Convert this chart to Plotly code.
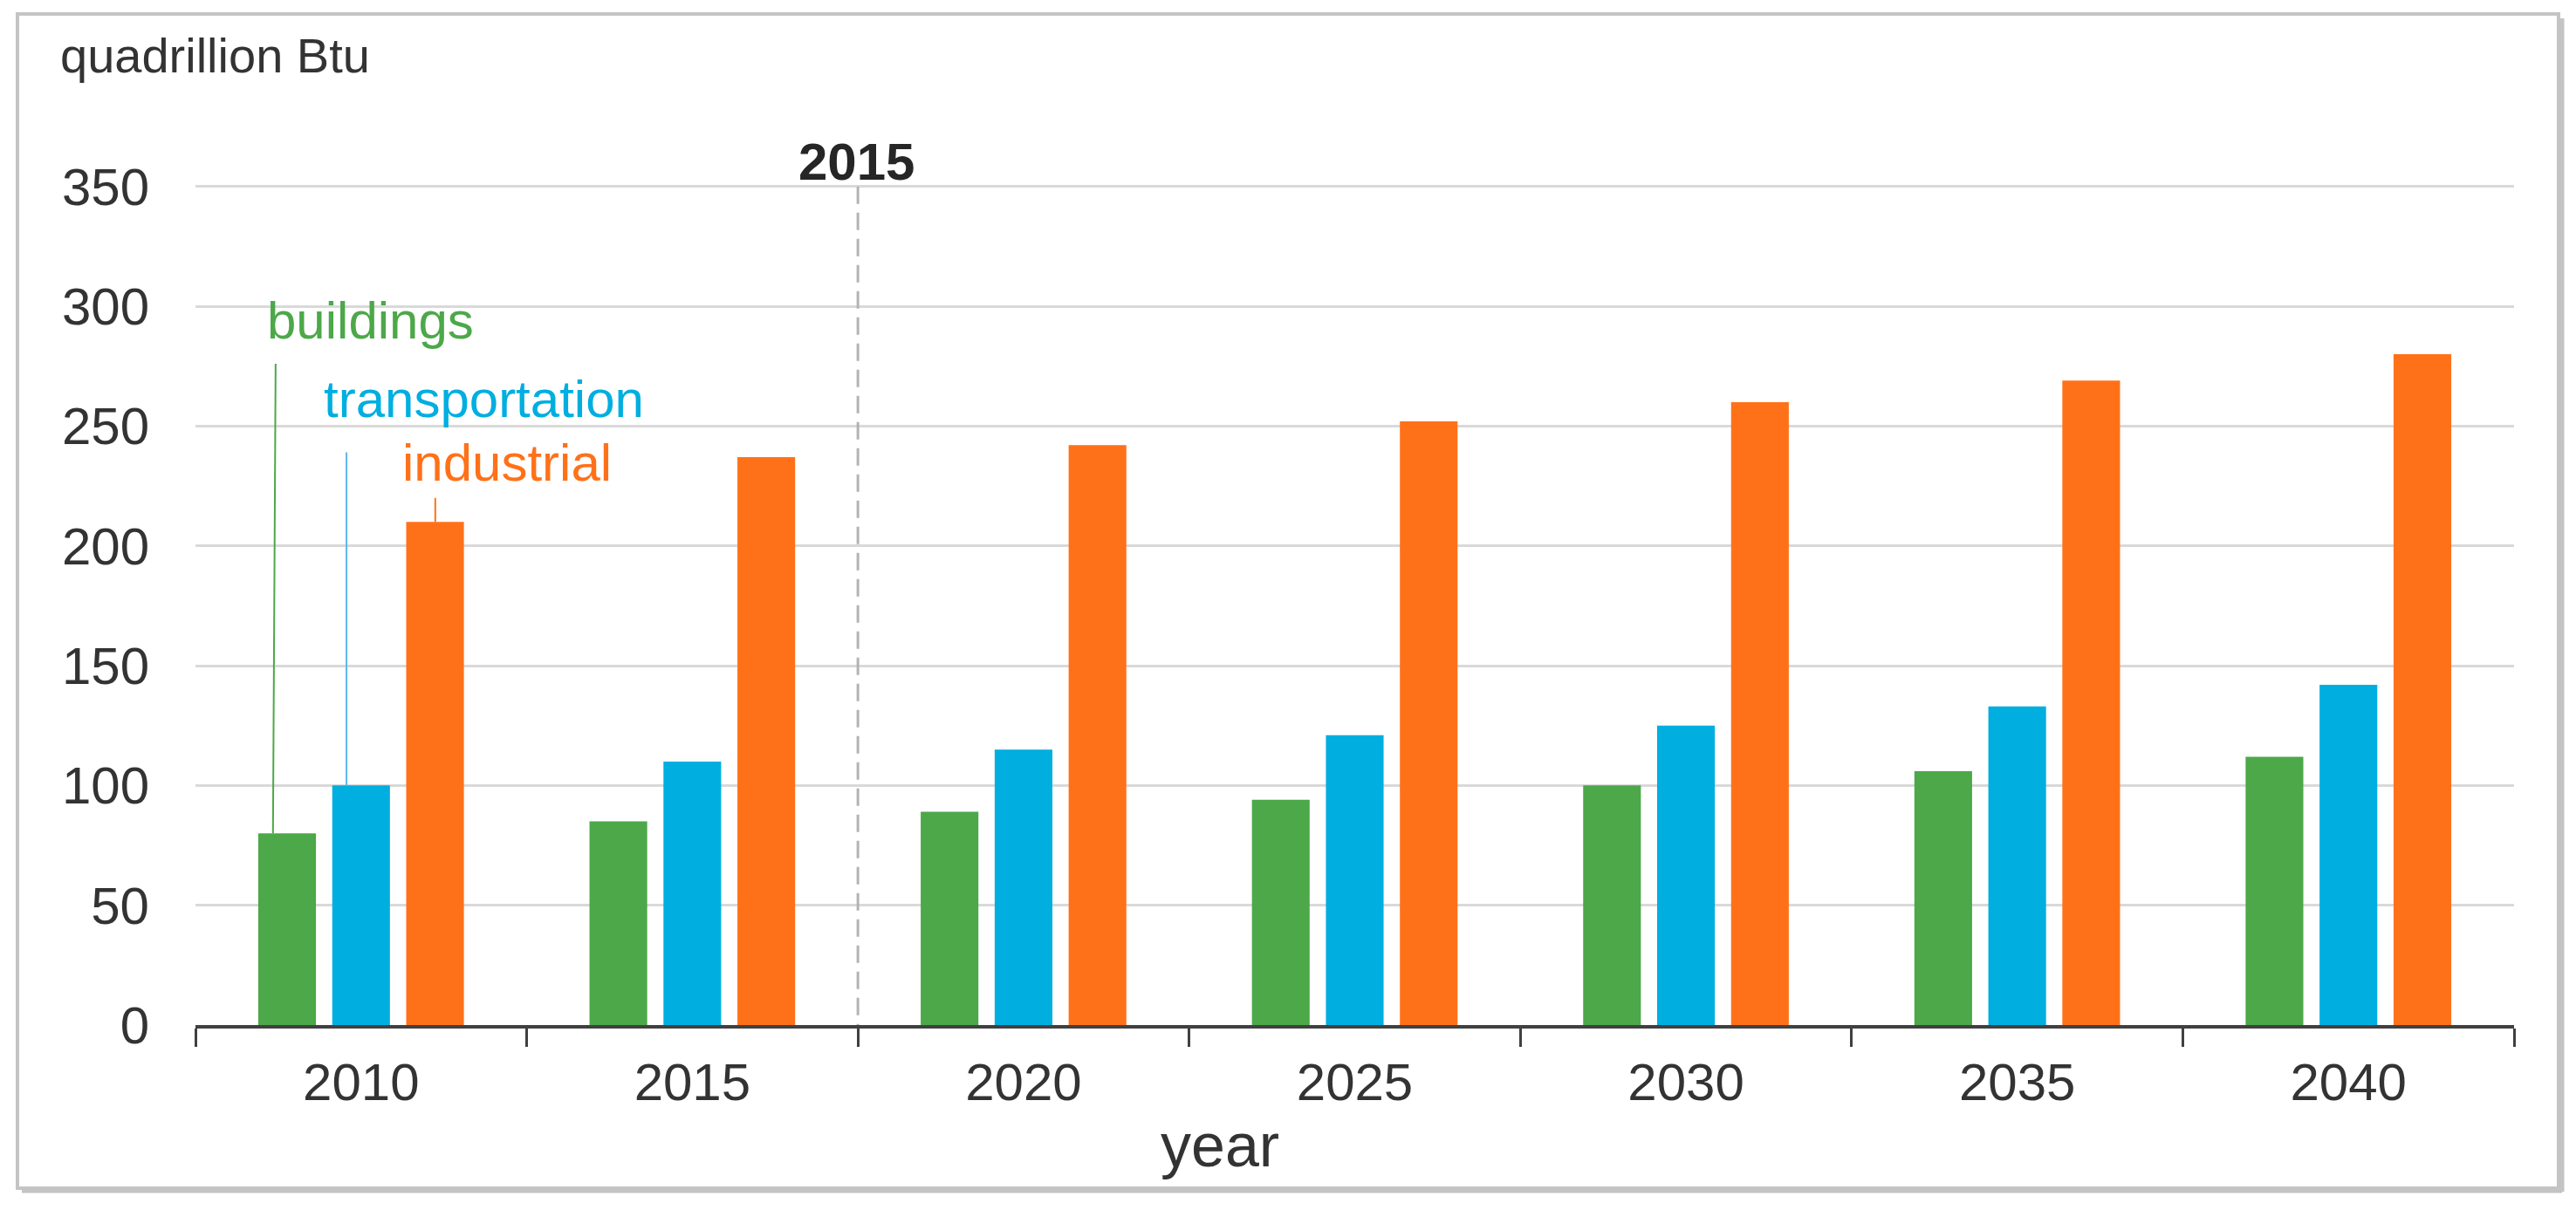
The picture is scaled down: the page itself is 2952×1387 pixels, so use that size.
import plotly.graph_objects as go

# ---------------- data ----------------
years = ["2010", "2015", "2020", "2025", "2030", "2035", "2040"]
buildings = [80, 85, 89, 94, 100, 106, 112]
transportation = [100, 110, 115, 121, 125, 133, 142]
industrial = [210, 237, 242, 252, 260, 269, 280]
series_names = ["buildings", "transportation", "industrial"]
y_ticks = [0, 50, 100, 150, 200, 250, 300, 350]

# ---------------- styling ----------------
W, H = 2952, 1387
PL, PR, PT, PB = 224, 2881, 211, 1175  # plot-area pixel box
FONT = "Liberation Sans, Arial, sans-serif"
GREEN, BLUE, ORANGE = "#4CA848", "#00AEE0", "#FF7119"
TXT = "#333333"


def px(x):
    return (x - PL) / (PR - PL)


def py(y):
    return (PB - y) / (PB - PT)


fig = go.Figure()
for name, vals, col in zip(series_names, [buildings, transportation, industrial],
                           [GREEN, BLUE, ORANGE]):
    fig.add_trace(go.Bar(x=years, y=vals, name=name, marker_color=col,
                         marker_line_width=0, showlegend=False))

fig.update_layout(
    width=W, height=H,
    margin=dict(l=PL, r=W - PR, t=PT, b=H - PB, pad=0, autoexpand=False),
    paper_bgcolor="white", plot_bgcolor="white",
    barmode="group", bargap=0.33, bargroupgap=0.22,
    font=dict(family=FONT, size=60, color=TXT),
    showlegend=False,
)
fig.update_xaxes(
    type="category", range=[-0.5, 6.5], tickson="boundaries",
    ticks="outside", ticklen=21, tickwidth=3, tickcolor="#404040",
    showline=True, linecolor="#404040", linewidth=4,
    showgrid=False, zeroline=False, tickfont=dict(size=60, color=TXT),
    ticklabelstandoff=10, automargin=False,
)
fig.update_yaxes(
    range=[0, 351], tickvals=y_ticks, showgrid=True, gridcolor="#d9d9d9",
    gridwidth=3, zeroline=False, showline=False, ticks="",
    tickfont=dict(size=60, color=TXT), ticklabelstandoff=52, automargin=False,
)

# vertical dashed divider at the 2015 / 2020 boundary
fig.add_shape(type="line", xref="x", yref="y", x0=1.5, x1=1.5, y0=350, y1=0,
              line=dict(color="#b3b3b3", width=3, dash="20px,10px"))

# leader lines from labels to the 2010 bars
fig.add_shape(type="line", xref="x", yref="y", x0=-0.258, x1=-0.266, y0=276,
              y1=buildings[0], line=dict(color=GREEN, width=2))
fig.add_shape(type="line", xref="x", yref="y", x0=-0.044, x1=-0.044, y0=239,
              y1=transportation[0], line=dict(color="#5BB8E8", width=2))
fig.add_shape(type="line", xref="x", yref="y", x0=0.224, x1=0.224, y0=220,
              y1=industrial[0], line=dict(color=ORANGE, width=2))

# outer frame with soft shadow
fig.add_shape(type="rect", xref="paper", yref="paper",
              x0=px(20), x1=px(2932), y0=py(16), y1=py(1362),
              line=dict(color="#c4c4c4", width=4), layer="above")
fig.add_shape(type="line", xref="paper", yref="paper",
              x0=px(2936), x1=px(2936), y0=py(21), y1=py(1366),
              line=dict(color="#c4c4c4", width=5))
fig.add_shape(type="line", xref="paper", yref="paper",
              x0=px(25), x1=px(2936), y0=py(1365), y1=py(1365),
              line=dict(color="#c4c4c4", width=5))


def ann(text, x, y, size, color, xanchor="left", bold=False):
    fig.add_annotation(
        text=f"<b>{text}</b>" if bold else text,
        xref="paper", yref="paper", x=px(x), y=py(y),
        xanchor=xanchor, yanchor="middle", showarrow=False,
        font=dict(family=FONT, size=size, color=color), borderpad=0,
    )


ann("quadrillion Btu", 68, 63, 56, TXT)
ann("2015", 981, 185, 60, "#262626", xanchor="center", bold=True)
ann("year", 1398, 1313, 70, "#333333", xanchor="center")
ann("buildings", 305, 367, 60, GREEN)
ann("transportation", 370, 457, 60, BLUE)
ann("industrial", 460, 530, 60, ORANGE)

fig.write_html("out.html", config={"displayModeBar": False},
               post_script="document.body.style.margin='0';")
